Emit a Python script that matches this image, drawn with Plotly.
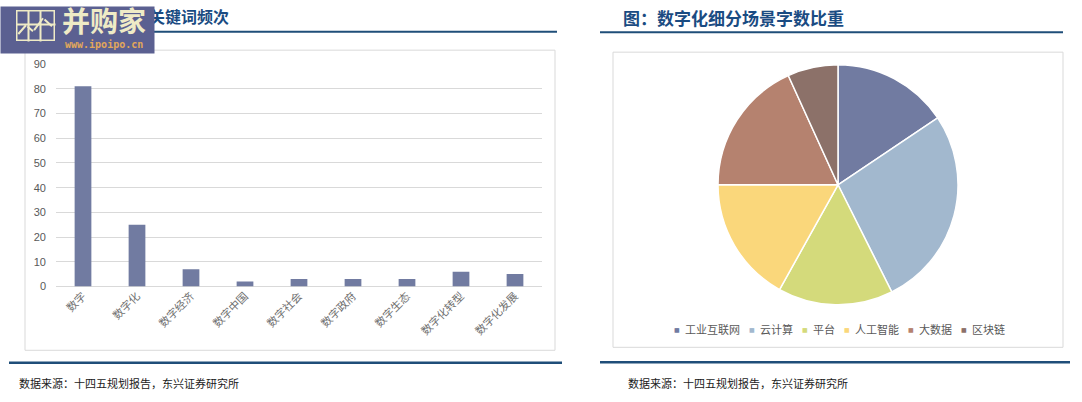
import plotly.graph_objects as go

W, H = 1082, 402

# ---------------- data ----------------
keywords = ["数字", "数字化", "数字经济", "数字中国", "数字社会", "数字政府", "数字生态", "数字化转型", "数字化发展"]
keyword_counts = [81, 25, 7, 2, 3, 3, 3, 6, 5]
y_ticks = [0, 10, 20, 30, 40, 50, 60, 70, 80, 90]

scenes = ["工业互联网", "云计算", "平台", "人工智能", "大数据", "区块链"]
scene_shares = [15.6, 27.0, 15.5, 16.9, 18.2, 6.8]
scene_colors = ["#717BA1", "#A2B8CE", "#D4DA7B", "#FAD77B", "#B5826F", "#8C7169"]

bar_title = "图：十四五数字化关键词频次"
pie_title = "图：数字化细分场景字数比重"
source_text = "数据来源：十四五规划报告，东兴证券研究所"
logo_text = "并购家"
logo_url = "www.ipoipo.cn"

BAR_COLOR = "#717BA1"
TITLE_BLUE = "#1A4B82"
LINE_BLUE = "#1F4E79"
GRID = "#D9D9D9"
TICK = "#595959"
XTICK = "#707070"
CJK = "Noto Sans CJK SC"
LAT = "Liberation Sans, Noto Sans CJK SC"

# vertical correction for the capture (measured from previous render)
Y_SCALE, Y_OFF = 0.973, 4.7


def px(x):
    return x / W


def py(y):
    yi = (y - Y_OFF) / Y_SCALE
    return 1 - yi / H


fig = go.Figure()

fig.add_trace(go.Bar(
    x=keywords, y=keyword_counts,
    marker=dict(color=BAR_COLOR, line=dict(width=0)),
    hoverinfo="skip", showlegend=False,
    xaxis="x", yaxis="y",
))

fig.add_trace(go.Pie(
    labels=scenes, values=scene_shares,
    marker=dict(colors=scene_colors, line=dict(color="white", width=1.5)),
    sort=False, direction="clockwise", rotation=0,
    textinfo="none", hoverinfo="skip", showlegend=False,
    domain=dict(x=[px(718), px(958)], y=[py(305), py(63)]),
))

shapes = []
# chart frames
shapes.append(dict(type="rect", xref="paper", yref="paper",
                   x0=px(25), x1=px(555), y0=py(350), y1=py(49),
                   line=dict(color=GRID, width=1), layer="below"))
shapes.append(dict(type="rect", xref="paper", yref="paper",
                   x0=px(613), x1=px(1063), y0=py(347), y1=py(51),
                   line=dict(color=GRID, width=1), layer="below"))
# title rules
shapes.append(dict(type="line", xref="paper", yref="paper",
                   x0=px(8), x1=px(557), y0=py(30.5), y1=py(30.5),
                   line=dict(color=LINE_BLUE, width=2)))
shapes.append(dict(type="line", xref="paper", yref="paper",
                   x0=px(600), x1=px(1063), y0=py(31), y1=py(31),
                   line=dict(color=LINE_BLUE, width=2)))
# footer rules
shapes.append(dict(type="line", xref="paper", yref="paper",
                   x0=px(9), x1=px(562), y0=py(362.5), y1=py(362.5),
                   line=dict(color=LINE_BLUE, width=2.5)))
shapes.append(dict(type="line", xref="paper", yref="paper",
                   x0=px(600), x1=px(1070), y0=py(362), y1=py(362),
                   line=dict(color=LINE_BLUE, width=2.5)))

annotations = []
# titles
annotations.append(dict(text="<b>" + bar_title + "</b>", xref="paper", yref="paper",
                        x=px(19), y=py(15), xanchor="left", yanchor="middle",
                        showarrow=False, font=dict(family=CJK, size=16, color=TITLE_BLUE)))
annotations.append(dict(text="<b>" + pie_title + "</b>", xref="paper", yref="paper",
                        x=px(621), y=py(16), xanchor="left", yanchor="middle",
                        showarrow=False, font=dict(family=CJK, size=17, color=TITLE_BLUE)))
# sources
annotations.append(dict(text=source_text, xref="paper", yref="paper",
                        x=px(17), y=py(383), xanchor="left", yanchor="middle",
                        showarrow=False, font=dict(family=CJK, size=11, color="#1A1A1A")))
annotations.append(dict(text=source_text, xref="paper", yref="paper",
                        x=px(626), y=py(383), xanchor="left", yanchor="middle",
                        showarrow=False, font=dict(family=CJK, size=11, color="#1A1A1A")))

# pie legend (small square markers + labels)
mx = 677
for lab, col in zip(scenes, scene_colors):
    annotations.append(dict(text="■", xref="paper", yref="paper",
                            x=px(mx), y=py(329), xanchor="center", yanchor="middle",
                            showarrow=False, font=dict(family="DejaVu Sans", size=6, color=col)))
    tx = mx + 6
    annotations.append(dict(text=lab, xref="paper", yref="paper",
                            x=px(tx), y=py(329), xanchor="left", yanchor="middle",
                            showarrow=False, font=dict(family=CJK, size=11, color=TICK)))
    mx = tx + 11 * len(lab) + 14

# watermark logo (drawn last, covering the start of the left title)
CREAM = "#EFEBC6"
annotations.append(dict(text=" ", xref="paper", yref="paper",
                        x=0, y=1, xanchor="left", yanchor="top",
                        width=153, height=46, borderpad=0, bgcolor="#5B6091",
                        showarrow=False))
annotations.append(dict(text="<b>" + logo_text + "</b>", xref="paper", yref="paper",
                        x=px(104), y=py(19), xanchor="center", yanchor="middle",
                        showarrow=False, font=dict(family=CJK, size=28, color=CREAM)))
annotations.append(dict(text="<b>" + logo_url + "</b>", xref="paper", yref="paper",
                        x=px(104), y=py(43), xanchor="center", yanchor="middle",
                        showarrow=False, font=dict(family="DejaVu Sans Mono", size=10, color="#E2A75A")))
# icon frame
annotations.append(dict(text=" ", xref="paper", yref="paper",
                        x=px(16), y=py(9), xanchor="left", yanchor="top",
                        width=36, height=28, borderpad=0, bordercolor=CREAM, borderwidth=1.5,
                        bgcolor="rgba(0,0,0,0)", showarrow=False))
for gx in (28, 40):
    annotations.append(dict(text=" ", xref="paper", yref="paper",
                            x=px(gx), y=py(9), xanchor="center", yanchor="top",
                            width=1, height=30, borderpad=0, bgcolor=CREAM, showarrow=False))
annotations.append(dict(text=" ", xref="paper", yref="paper",
                        x=px(16), y=py(23), xanchor="left", yanchor="middle",
                        width=38, height=1, borderpad=0, bgcolor=CREAM, showarrow=False))
zig = [(17, 34), (26, 24), (33, 30), (43, 17), (52, 25)]
for (xa, ya), (xb, yb) in zip(zig[:-1], zig[1:]):
    annotations.append(dict(text="", xref="paper", yref="paper",
                            x=px(xb), y=py(yb), ax=xa - xb, ay=-(py(ya) - py(yb)) * H,
                            showarrow=True, arrowhead=0, arrowwidth=2, arrowcolor=CREAM,
                            standoff=0, startstandoff=0))

fig.update_layout(
    width=W, height=H,
    margin=dict(l=0, r=0, t=0, b=0),
    paper_bgcolor="white", plot_bgcolor="white",
    bargap=0.69,
    xaxis=dict(domain=[px(56), px(542)], showgrid=False, showline=False, zeroline=False,
               tickangle=-45, tickfont=dict(family=CJK, size=11, color=XTICK),
               ticks="", fixedrange=True),
    yaxis=dict(domain=[py(286), py(63)], range=[0, 90], tickvals=y_ticks,
               showgrid=True, gridcolor=GRID, gridwidth=1,
               zeroline=True, zerolinecolor=GRID, zerolinewidth=1,
               showline=False, ticks="", ticklabelstandoff=9,
               tickfont=dict(family=LAT, size=11, color=TICK), fixedrange=True),
    shapes=shapes,
    annotations=annotations,
)

fig.write_html(
    "out.html",
    config={"displayModeBar": False},
    post_script=(
        "document.body.style.margin='0';document.body.style.padding='0';"
        "document.documentElement.style.overflow='hidden';"
    ),
)
